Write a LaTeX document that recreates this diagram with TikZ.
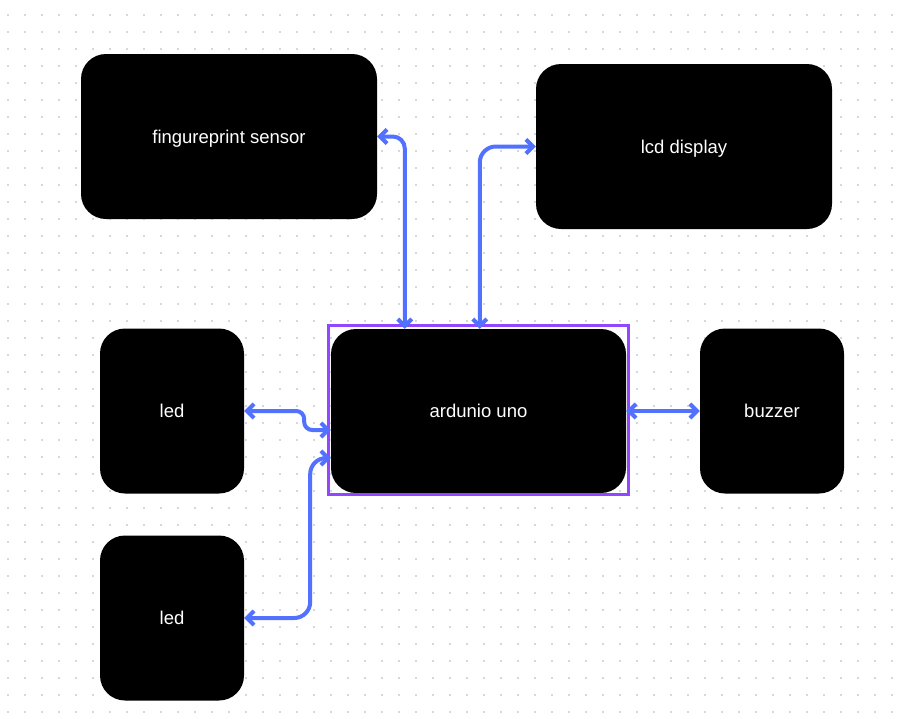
\documentclass[tikz,border=0pt]{standalone}
\usepackage{fontspec}
\setmainfont{Liberation Sans}
\usetikzlibrary{arrows.meta}
\definecolor{linkblue}{HTML}{5271FF}
\definecolor{selpurple}{HTML}{9146FF}
\definecolor{dotgray}{HTML}{D3D7DF}
\begin{document}
\begin{tikzpicture}[x=1pt,y=-1pt]
\tikzset{block/.style = {fill=black,text=white,rounded corners=25pt,inner sep=0pt,text depth=0pt,font=\fontsize{18.5}{22}\selectfont}}
\tikzset{link/.style = {{Straight Barb[length=7pt,width=14pt]}-{Straight Barb[length=7pt,width=14pt]},linkblue,line width=4pt,line cap=round}}
\useasboundingbox[fill=white] (0,0) rectangle (900,718);
% dotted canvas
\foreach \i in {0,...,52}
  \foreach \j in {0,...,42}
    \fill[dotgray] (8+17*\i-1.4,15+17*\j-1.4) rectangle ++(2.8,2.8);
\node[block,minimum width=296pt,minimum height=165pt] (fp) at (229,136.5) {fingureprint sensor};
\node[block,minimum width=296pt,minimum height=165pt] (lcd) at (684,146.5) {lcd display};
\node[block,minimum width=295pt,minimum height=164pt] (ard) at (478.5,411) {ardunio uno};
\node[block,minimum width=144pt,minimum height=165pt] (led1) at (172,411) {led};
\node[block,minimum width=144pt,minimum height=165pt] (bz) at (772,411) {buzzer};
\node[block,minimum width=144pt,minimum height=165pt] (led2) at (172,618) {led};
% selection frame
\draw[selpurple,line width=3pt] ([shift={(-2pt,3pt)}]ard.north west) rectangle ([shift={(2pt,-1pt)}]ard.south east);
\draw[link,rounded corners=12pt] (fp.east) -| ([xshift=74pt]ard.north west);
\draw[link,rounded corners=16pt] ([xshift=149pt]ard.north west) |- (lcd.west);
\draw[link,rounded corners=8pt] (led1.east) -- ++(60,0) |- ([yshift=-19pt]ard.west);
\draw[link,rounded corners=16pt] (led2.east) -- ++(66,0) |- ([yshift=-47pt]ard.west);
\draw[link] (ard.east) -- (bz.west);
\end{tikzpicture}
\end{document}
